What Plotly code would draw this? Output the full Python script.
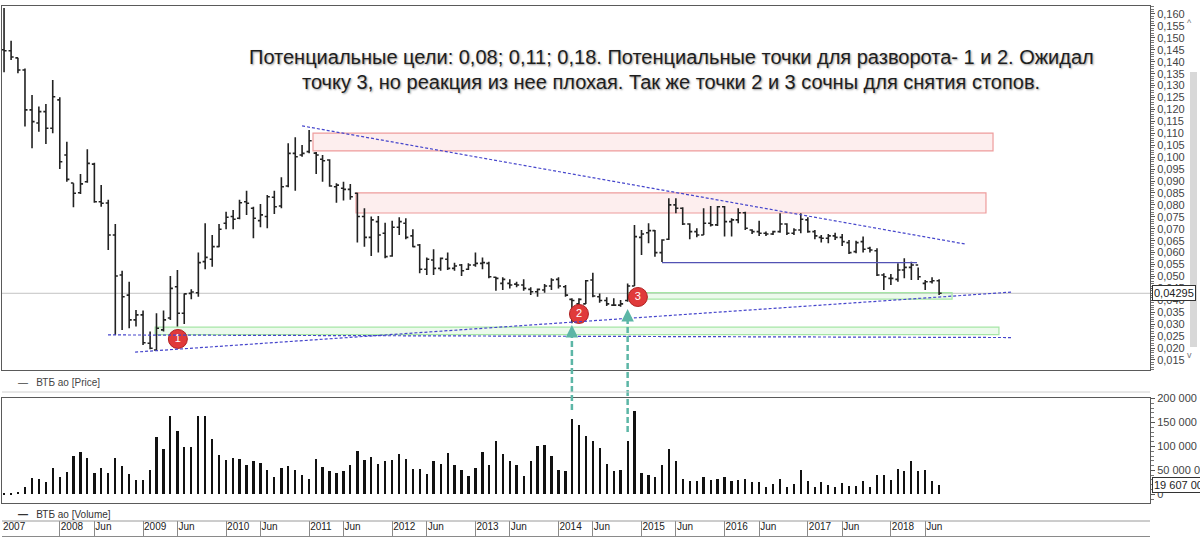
import pandas as pd
import plotly.graph_objects as go

# ---------------- data ----------------
start_month = "2007-05-01"
n_bars = 136
dates = pd.date_range(start_month, periods=n_bars, freq="MS")

open_ = [
    0.1450, 0.1446, 0.1416, 0.1365, 0.1198, 0.1143, 0.1191, 0.1121, 0.1240, 0.1009,
    0.0892, 0.0851, 0.0897, 0.0971, 0.0813, 0.0808, 0.0674, 0.0506, 0.0422, 0.0318,
    0.0339, 0.0220, 0.0192, 0.0276, 0.0326, 0.0457, 0.0346, 0.0429, 0.0432, 0.0562,
    0.0572, 0.0625, 0.0723, 0.0751, 0.0744, 0.0813, 0.0786, 0.0734, 0.0751, 0.0832,
    0.0795, 0.0879, 0.1016, 0.1009, 0.1023, 0.1017, 0.0991, 0.0988, 0.0876, 0.0870,
    0.0865, 0.0849, 0.0751, 0.0664, 0.0730, 0.0681, 0.0586, 0.0706, 0.0723, 0.0670,
    0.0632, 0.0530, 0.0569, 0.0534, 0.0572, 0.0534, 0.0548, 0.0530, 0.0548, 0.0555,
    0.0555, 0.0497, 0.0471, 0.0471, 0.0468, 0.0464, 0.0446, 0.0436, 0.0443, 0.0460,
    0.0488, 0.0457, 0.0404, 0.0385, 0.0385, 0.0485, 0.0415, 0.0399, 0.0380, 0.0380,
    0.0399, 0.0460, 0.0664, 0.0683, 0.0692, 0.0600, 0.0656, 0.0800, 0.0786, 0.0720,
    0.0688, 0.0674, 0.0723, 0.0716, 0.0792, 0.0730, 0.0737, 0.0767, 0.0695, 0.0688,
    0.0681, 0.0678, 0.0688, 0.0720, 0.0681, 0.0695, 0.0737, 0.0688, 0.0664, 0.0660,
    0.0670, 0.0664, 0.0642, 0.0604, 0.0646, 0.0618, 0.0608, 0.0506, 0.0492, 0.0488,
    0.0527, 0.0538, 0.0548, 0.0471, 0.0478, 0.0482]

high = [
    0.1625, 0.1488, 0.1417, 0.1372, 0.1261, 0.1212, 0.1223, 0.1323, 0.1251, 0.1065,
    0.0891, 0.0929, 0.1033, 0.0977, 0.0883, 0.0821, 0.0720, 0.0524, 0.0478, 0.0359,
    0.0357, 0.0269, 0.0346, 0.0357, 0.0502, 0.0527, 0.0429, 0.0446, 0.0600, 0.0723,
    0.0674, 0.0720, 0.0771, 0.0779, 0.0821, 0.0859, 0.0792, 0.0804, 0.0841, 0.0859,
    0.0916, 0.1058, 0.1083, 0.1051, 0.1114, 0.1022, 0.1009, 0.0991, 0.0891, 0.0897,
    0.0888, 0.0851, 0.0786, 0.0751, 0.0753, 0.0725, 0.0734, 0.0748, 0.0744, 0.0698,
    0.0636, 0.0580, 0.0614, 0.0580, 0.0600, 0.0558, 0.0552, 0.0555, 0.0600, 0.0580,
    0.0562, 0.0499, 0.0497, 0.0488, 0.0478, 0.0488, 0.0455, 0.0450, 0.0468, 0.0492,
    0.0497, 0.0464, 0.0409, 0.0409, 0.0485, 0.0516, 0.0429, 0.0413, 0.0409, 0.0401,
    0.0471, 0.0716, 0.0695, 0.0723, 0.0695, 0.0656, 0.0828, 0.0828, 0.0790, 0.0723,
    0.0702, 0.0786, 0.0795, 0.0795, 0.0795, 0.0744, 0.0786, 0.0771, 0.0698, 0.0734,
    0.0688, 0.0692, 0.0765, 0.0723, 0.0702, 0.0765, 0.0748, 0.0695, 0.0674, 0.0678,
    0.0683, 0.0678, 0.0653, 0.0650, 0.0667, 0.0625, 0.0618, 0.0513, 0.0510, 0.0555,
    0.0576, 0.0562, 0.0538, 0.0485, 0.0497, 0.0488]

low = [
    0.1356, 0.1407, 0.1352, 0.1128, 0.1037, 0.1107, 0.1055, 0.1100, 0.0950, 0.0897,
    0.0790, 0.0846, 0.0893, 0.0809, 0.0792, 0.0611, 0.0255, 0.0276, 0.0283, 0.0290,
    0.0213, 0.0195, 0.0189, 0.0269, 0.0318, 0.0290, 0.0301, 0.0404, 0.0415, 0.0530,
    0.0541, 0.0622, 0.0698, 0.0698, 0.0740, 0.0758, 0.0660, 0.0706, 0.0702, 0.0762,
    0.0786, 0.0874, 0.0859, 0.1002, 0.1016, 0.0929, 0.0897, 0.0876, 0.0809, 0.0818,
    0.0821, 0.0642, 0.0625, 0.0586, 0.0600, 0.0576, 0.0583, 0.0674, 0.0656, 0.0622,
    0.0513, 0.0506, 0.0506, 0.0524, 0.0527, 0.0524, 0.0502, 0.0527, 0.0541, 0.0530,
    0.0492, 0.0440, 0.0443, 0.0450, 0.0455, 0.0440, 0.0422, 0.0415, 0.0432, 0.0443,
    0.0450, 0.0415, 0.0304, 0.0380, 0.0385, 0.0413, 0.0390, 0.0376, 0.0376, 0.0373,
    0.0394, 0.0460, 0.0590, 0.0639, 0.0583, 0.0561, 0.0653, 0.0765, 0.0716, 0.0656,
    0.0664, 0.0674, 0.0709, 0.0712, 0.0667, 0.0667, 0.0723, 0.0695, 0.0678, 0.0670,
    0.0670, 0.0674, 0.0683, 0.0674, 0.0674, 0.0681, 0.0683, 0.0656, 0.0642, 0.0639,
    0.0653, 0.0628, 0.0594, 0.0597, 0.0600, 0.0600, 0.0502, 0.0443, 0.0464, 0.0478,
    0.0492, 0.0485, 0.0485, 0.0443, 0.0471, 0.0422]

close = [
    0.1446, 0.1420, 0.1365, 0.1198, 0.1149, 0.1191, 0.1121, 0.1253, 0.0981, 0.0907,
    0.0849, 0.0888, 0.0974, 0.0813, 0.0807, 0.0674, 0.0502, 0.0415, 0.0318, 0.0339,
    0.0222, 0.0199, 0.0283, 0.0318, 0.0450, 0.0346, 0.0427, 0.0435, 0.0558, 0.0580,
    0.0625, 0.0698, 0.0748, 0.0740, 0.0809, 0.0807, 0.0744, 0.0758, 0.0834, 0.0792,
    0.0876, 0.1016, 0.1002, 0.1016, 0.1069, 0.1009, 0.0985, 0.0879, 0.0883, 0.0865,
    0.0834, 0.0751, 0.0664, 0.0737, 0.0674, 0.0583, 0.0706, 0.0730, 0.0664, 0.0625,
    0.0530, 0.0572, 0.0534, 0.0576, 0.0534, 0.0544, 0.0524, 0.0548, 0.0555, 0.0558,
    0.0499, 0.0492, 0.0488, 0.0464, 0.0464, 0.0450, 0.0436, 0.0446, 0.0460, 0.0485,
    0.0460, 0.0422, 0.0399, 0.0404, 0.0482, 0.0418, 0.0399, 0.0385, 0.0380, 0.0385,
    0.0460, 0.0667, 0.0678, 0.0692, 0.0600, 0.0653, 0.0800, 0.0786, 0.0720, 0.0688,
    0.0674, 0.0723, 0.0716, 0.0792, 0.0730, 0.0737, 0.0767, 0.0702, 0.0688, 0.0681,
    0.0678, 0.0688, 0.0720, 0.0681, 0.0695, 0.0740, 0.0688, 0.0670, 0.0660, 0.0670,
    0.0664, 0.0646, 0.0600, 0.0642, 0.0614, 0.0611, 0.0506, 0.0499, 0.0492, 0.0527,
    0.0538, 0.0548, 0.0499, 0.0478, 0.0482, 0.04295]

volume_mln = [
    2.7, 2.7, 4.7, 14.8, 33.7, 31.6, 24.9, 55.2, 37.0, 46.4,
    80.8, 87.5, 75.4, 45.1, 55.2, 45.1, 76.7, 58.6, 41.7, 29.6,
    29.6, 50.5, 119.1, 94.2, 164.2, 132.6, 98.9, 98.9, 164.2, 164.2,
    115.8, 82.1, 72.0, 76.7, 73.4, 61.9, 70.0, 65.3, 50.5, 36.3,
    55.2, 58.6, 49.8, 39.7, 31.6, 74.0, 57.2, 48.5, 45.1, 48.5,
    60.6, 90.9, 72.0, 78.7, 63.9, 70.0, 72.0, 84.1, 73.4, 53.8,
    52.5, 41.7, 70.0, 63.9, 85.5, 61.9, 50.5, 38.4, 55.2, 87.5,
    61.9, 110.4, 83.5, 70.0, 61.9, 38.4, 70.0, 101.0, 102.3, 80.8,
    50.5, 48.5, 157.5, 144.0, 122.5, 111.7, 96.9, 63.9, 48.5, 51.1,
    111.7, 173.0, 43.7, 40.4, 36.3, 60.6, 95.6, 68.6, 33.0, 27.6,
    26.9, 37.0, 29.6, 33.0, 35.7, 28.3, 30.3, 32.3, 26.2, 26.2,
    14.8, 21.5, 33.0, 16.2, 21.5, 51.1, 28.3, 14.8, 24.9, 20.2,
    14.8, 23.6, 18.2, 18.2, 26.9, 16.2, 40.4, 39.7, 29.6, 53.8,
    48.5, 68.6, 48.5, 49.8, 28.3, 19.607]

# time axis ticks
time_tickvals = ["2007-04-22"]
time_ticktext = ["2007"]
for yr in range(2008, 2019):
    time_tickvals += [f"{yr}-01-01", f"{yr}-06-01"]
    time_ticktext += [str(yr), "Jun"]

# numbered reversal points
point_labels = ["1", "2", "3"]
point_dates = ["2009-06-03", "2014-04-01", "2014-12-16"]
point_prices = [0.0238, 0.0343, 0.0414]

title_line1 = "Потенциальные цели: 0,08; 0,11; 0,18. Потенциальные точки для разворота- 1 и 2. Ожидал"
title_line2 = "точку 3, но реакция из нее плохая. Так же точки 2 и 3 сочны для снятия стопов."

x_range = ["2007-04-22", "2021-02-13"]
price_range = [0.0108, 0.16335]
vol_range = [-18e6, 201e6]

# ---------------- figure ----------------
FONT = "Liberation Sans"
volume = [v * 1e6 for v in volume_mln]

fig = go.Figure()

fig.add_trace(go.Ohlc(
    x=dates, open=open_, high=high, low=low, close=close,
    increasing_line_color="#222222", decreasing_line_color="#222222",
    line_width=1.6, tickwidth=0.4, xaxis="x", yaxis="y",
    showlegend=False, hoverinfo="skip"))

# helper (draws nothing) so the time axis exists
fig.add_trace(go.Scatter(x=dates, y=volume, mode="none", xaxis="x3",
                         yaxis="y2", showlegend=False, hoverinfo="skip"))

fig.add_trace(go.Bar(
    x=dates, y=volume, width=10 * 86400000, marker_color="#111111",
    marker_line_width=0, xaxis="x2", yaxis="y2", showlegend=False,
    hoverinfo="skip"))

fig.add_trace(go.Scatter(
    x=point_dates, y=point_prices, mode="markers+text", text=point_labels,
    textposition="middle center",
    textfont=dict(family=FONT, size=11, color="white"),
    marker=dict(size=19, color="#e03a3a", line=dict(width=1, color="#b02020")),
    xaxis="x", yaxis="y", showlegend=False, hoverinfo="skip"))

H = 538
def py(px):
    # pixel row -> paper fraction (plot area 6..536)
    return (536 - px) / 530.0

shapes = []
# pink target zones
for x0, x1, y0, y1 in [("2011-01-18", "2019-03-26", 0.1026, 0.1101),
                       ("2011-07-26", "2019-02-23", 0.0766, 0.0850)]:
    shapes.append(dict(type="rect", xref="x", yref="y", x0=x0, x1=x1, y0=y0, y1=y1,
                       fillcolor="rgba(240,150,150,0.16)",
                       line=dict(color="#ee9c9c", width=1.2), layer="below"))
# green support zones
for x0, x1, y0, y1 in [("2009-02-23", "2019-04-21", 0.0256, 0.0288),
                       ("2014-11-02", "2018-09-27", 0.0405, 0.0432)]:
    shapes.append(dict(type="rect", xref="x", yref="y", x0=x0, x1=x1, y0=y0, y1=y1,
                       fillcolor="rgba(150,230,150,0.18)",
                       line=dict(color="#a6e6a6", width=1.2), layer="below"))
# last price line
shapes.append(dict(type="line", xref="paper", yref="y", x0=0, x1=1,
                   y0=close[-1], y1=close[-1],
                   line=dict(color="#c4c4c4", width=1), layer="below"))
# dashed trend lines
dash_blue = dict(color="#4646cc", width=1.2, dash="3px,2px")
for x0, y0, x1, y1 in [("2010-12-01", 0.1131, "2018-11-23", 0.0636),
                       ("2008-11-27", 0.0183, "2019-06-22", 0.0435),
                       ("2008-07-31", 0.0255, "2019-06-22", 0.0244)]:
    shapes.append(dict(type="line", xref="x", yref="y", x0=x0, y0=y0, x1=x1, y1=y1,
                       line=dash_blue))
# solid blue level
shapes.append(dict(type="line", xref="x", yref="y", x0="2015-04-01", x1="2018-04-26",
                   y0=0.0558, y1=0.0558, line=dict(color="#5252b4", width=1.2)))
# teal dashed arrows
teal = "#5cb6a6"
arrow_specs = [("2014-03-01", 410, 325), ("2014-11-01", 432, 309)]
for xd, ybot, ytop in arrow_specs:
    shapes.append(dict(type="line", xref="x", yref="paper", x0=xd, x1=xd,
                       y0=py(ybot), y1=py(ytop + 8),
                       line=dict(color=teal, width=2.5, dash="6px,3px")))
# separators / frames outside plots
shapes.append(dict(type="line", xref="paper", yref="paper", x0=0, x1=1,
                   y0=py(392), y1=py(392), line=dict(color="#d0d0d0", width=1)))
shapes.append(dict(type="line", xref="paper", yref="paper", x0=0, x1=1,
                   y0=py(521), y1=py(521), line=dict(color="#9a9a9a", width=1)))
# scrollbar
shapes.append(dict(type="rect", xref="paper", yref="paper",
                   x0=(1190 - 2) / 1148, x1=(1197 - 2) / 1148,
                   y0=py(347), y1=py(72), fillcolor="#d8d8d8", line=dict(width=0)))

annotations = []
for txt, ypx in [(title_line1, 57), (title_line2, 82)]:
    annotations.append(dict(
        text=txt, xref="paper", yref="paper", x=(671 - 2) / 1148, y=py(ypx),
        xanchor="center", yanchor="middle", showarrow=False,
        font=dict(family=FONT, size=20, color="#1e1e1e",
                  shadow="1px 1px 2px #9a9a9a")))
# arrow heads
for xd, ybot, ytop in arrow_specs:
    annotations.append(dict(
        text="", xref="x", yref="paper", x=xd, y=py(ytop), showarrow=True,
        arrowhead=2, arrowsize=1.0, arrowwidth=2.5, arrowcolor=teal,
        ax=0, ay=10, standoff=0))
# legends
annotations.append(dict(text="—&nbsp;&nbsp;&nbsp;ВТБ ао [Price]", xref="paper",
                        yref="paper", x=(16 - 2) / 1148, y=py(382), xanchor="left",
                        yanchor="middle", showarrow=False,
                        font=dict(family=FONT, size=10, color="#444")))
annotations.append(dict(text="<b>—</b>&nbsp;&nbsp;&nbsp;ВТБ ао [Volume]", xref="paper",
                        yref="paper", x=(16 - 2) / 1148, y=py(514), xanchor="left",
                        yanchor="middle", showarrow=False,
                        font=dict(family=FONT, size=10, color="#333")))
# last value boxes
annotations.append(dict(text=f"{close[-1]:.5f}".replace(".", ","), xref="paper",
                        yref="y", x=1, y=close[-1], xanchor="left", yanchor="middle",
                        xshift=2, showarrow=False, bgcolor="white",
                        bordercolor="#333", borderwidth=1, borderpad=1,
                        font=dict(family=FONT, size=11, color="#222")))
annotations.append(dict(text=f"{int(round(volume[-1])):,}".replace(",", " "),
                        xref="paper", yref="y2", x=1, y=volume[-1], xanchor="left",
                        yanchor="middle", xshift=2, showarrow=False,
                        bgcolor="white", bordercolor="#333", borderwidth=1,
                        borderpad=1, font=dict(family=FONT, size=11, color="#222")))
# scrollbar arrows
annotations.append(dict(text="^", xref="paper", yref="paper", x=(1194 - 2) / 1148,
                        y=py(16), showarrow=False, font=dict(size=9, color="#777")))
annotations.append(dict(text="v", xref="paper", yref="paper", x=(1194 - 2) / 1148,
                        y=py(362), showarrow=False, font=dict(size=9, color="#777")))

axis_common = dict(showgrid=False, zeroline=False, automargin=False)

fig.update_layout(
    width=1200, height=H, template="none",
    margin=dict(l=2, r=50, t=6, b=2),
    paper_bgcolor="white", plot_bgcolor="rgba(0,0,0,0)",
    separators=", ",
    font=dict(family=FONT, size=11, color="#333"),
    showlegend=False, bargap=0,
    xaxis=dict(**axis_common, domain=[0, 1], anchor="y", type="date",
               range=x_range, showticklabels=False, ticks="",
               showline=True, mirror=True, linecolor="#5a5a5a", linewidth=1,
               rangeslider=dict(visible=False)),
    yaxis=dict(**axis_common, domain=[py(370), 1], anchor="x", side="right",
               range=price_range, dtick=0.005, tick0=0, tickformat=".3f",
               ticks="outside", ticklen=4, tickcolor="#555",
               minor=dict(dtick=0.001, ticks="outside", ticklen=3, tickcolor="#777"),
               showline=True, mirror=True, linecolor="#5a5a5a", linewidth=1,
               tickfont=dict(family=FONT, size=11, color="#444")),
    xaxis2=dict(**axis_common, domain=[0, 1], anchor="y2", type="date",
                range=x_range, showticklabels=False, ticks="",
                showline=True, mirror=True, linecolor="#5a5a5a", linewidth=1),
    yaxis2=dict(**axis_common, domain=[py(503), py(398)], anchor="x2", side="right",
                range=vol_range, tickvals=[0, 50e6, 100e6, 150e6, 200e6],
                tickformat=",d", ticks="outside", ticklen=4, tickcolor="#555",
                minor=dict(dtick=10e6, ticks="outside", ticklen=3, tickcolor="#777"),
                showline=True, mirror=True, linecolor="#5a5a5a", linewidth=1,
                tickfont=dict(family=FONT, size=11, color="#444")),
    xaxis3=dict(**axis_common, domain=[0, 1], anchor="free", position=0,
                type="date", range=x_range, tickmode="array",
                tickvals=time_tickvals, ticktext=time_ticktext,
                ticks="inside", ticklen=15, tickcolor="#8a8a8a", tickwidth=1,
                ticklabelposition="inside right",
                showline=True, linecolor="#8a8a8a", linewidth=1,
                tickfont=dict(family=FONT, size=10, color="#222")),
    shapes=shapes, annotations=annotations,
)

fig.write_html("out.html", config={"displayModeBar": False},
               post_script="document.body.style.margin='0';")
